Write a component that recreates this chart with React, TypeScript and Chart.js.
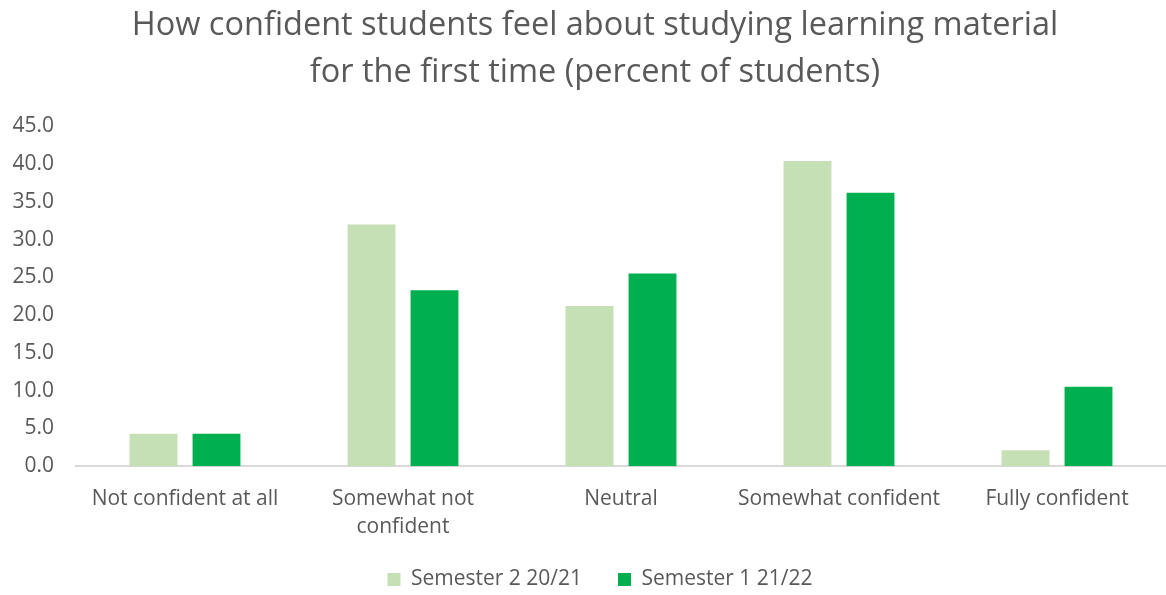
import React, { useEffect, useRef } from "react";
import { Chart, registerables } from "chart.js";

Chart.register(...registerables);

const categories: (string | string[])[] = [
  "Not confident at all",
  ["Somewhat not", "confident"],
  "Neutral",
  "Somewhat confident",
  "Fully confident",
];
const semester2_2021 = [4.3, 32.0, 21.2, 40.4, 2.1];
const semester1_2122 = [4.3, 23.3, 25.5, 36.2, 10.5];
const seriesNames = ["Semester 2 20/21", "Semester 1 21/22"];
const titleLines = [
  "How confident students feel about studying learning material",
  "for the first time (percent of students)",
];

const FONT = "'Open Sans', sans-serif";
const TEXT = "#595959";

// nudge title and legend to match the reference placement
const nudgeBoxes = {
  id: "nudgeBoxes",
  afterLayout(chart: any) {
    const t = chart.titleBlock;
    if (t) {
      t.left += 7;
      t.right += 7;
    }
    const l = chart.legend;
    if (l) {
      l.left += 12;
      l.right += 12;
      l.top -= 27;
      l.bottom -= 27;
    }
  },
};

export default function App() {
  const ref = useRef<HTMLCanvasElement>(null);
  useEffect(() => {
    document.body.style.margin = "0";
    if (!ref.current) return;
    const chart = new Chart(ref.current, {
      type: "bar",
      data: {
        labels: categories,
        datasets: [
          {
            label: seriesNames[0],
            data: semester2_2021,
            backgroundColor: "#C5E0B4",
            barPercentage: 0.76,
            categoryPercentage: 0.578,
          },
          {
            label: seriesNames[1],
            data: semester1_2122,
            backgroundColor: "#00B050",
            barPercentage: 0.76,
            categoryPercentage: 0.578,
          },
        ],
      },
      plugins: [nudgeBoxes],
      options: {
        animation: false,
        responsive: false,
        maintainAspectRatio: false,
        layout: { padding: { left: 10, right: 0, top: 2, bottom: -32 } },
        plugins: {
          title: {
            display: true,
            text: titleLines,
            color: TEXT,
            font: { family: FONT, size: 32.5, weight: "normal", lineHeight: 1.45 },
            padding: { top: 0, bottom: 30 },
          },
          legend: {
            position: "bottom",
            labels: {
              color: TEXT,
              font: { family: FONT, size: 21 },
              boxWidth: 13,
              boxHeight: 13,
              padding: 36,
            },
          },
          tooltip: { enabled: false },
        },
        scales: {
          x: {
            grid: { display: false, drawTicks: false },
            border: { display: true, color: "#D9D9D9", width: 2 },
            ticks: {
              color: TEXT,
              font: { family: FONT, size: 21, lineHeight: 1.33 },
              padding: 19,
              maxRotation: 0,
              autoSkip: false,
            },
          },
          y: {
            min: 0,
            max: 45,
            grid: { display: false, drawTicks: false },
            border: { display: false },
            ticks: {
              stepSize: 5,
              color: TEXT,
              font: { family: FONT, size: 21 },
              padding: 22,
              callback: (v: any) => Number(v).toFixed(1),
            },
            afterFit: (s: any) => {
              s.width = 66;
            },
          },
        },
      },
    });
    return () => chart.destroy();
  }, []);
  return <canvas ref={ref} width={1166} height={595} style={{ display: "block" }} />;
}
